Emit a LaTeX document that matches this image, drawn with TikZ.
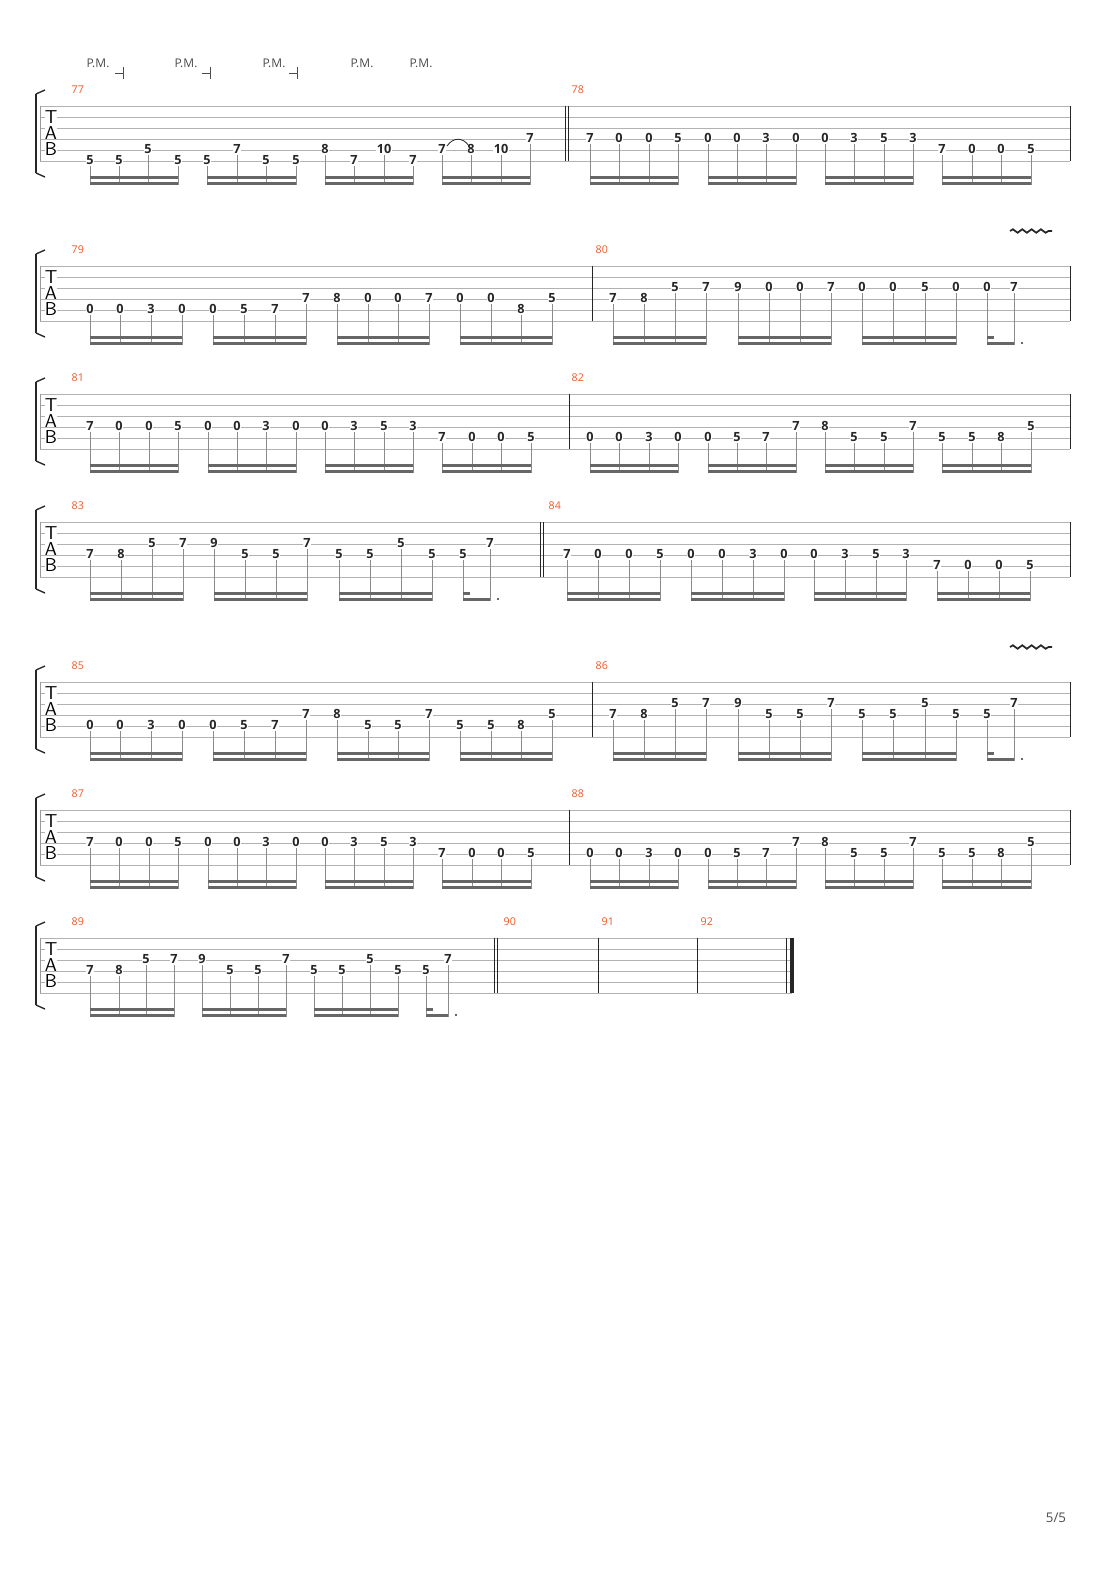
\documentclass[tikz,border=0pt]{standalone}
\usepackage{fontspec}
\setmainfont{Open Sans}
\usetikzlibrary{decorations.pathmorphing}
\tikzset{
 fret/.style={font=\bfseries\fontsize{9.5}{10}\selectfont,fill=white,inner sep=0.6pt,text=black!85},
 stem/.style={draw=black!45,line width=0.5pt},
 beamc/.style={fill=black!60},
 sline/.style={draw=black!30,line width=0.5pt},
 mnum/.style={font=\fontsize{8}{8}\selectfont,text={rgb,255:red,240;green,90;blue,40},anchor=west},
 pm/.style={font=\fontsize{9}{9}\selectfont,text=black!70},
 bar/.style={draw=black!85,line width=0.6pt},
}
\newcommand\staff[2]{%
 \foreach \k in {0,...,5}{\draw[sline] (40,{#1+11*\k}) -- (#2,{#1+11*\k});}
 \draw[draw=black!40,line width=0.5pt] (40,#1) -- (40,#1+55);
 \draw[line width=2pt,black!85] (36,#1-12) -- (36,#1+67);
 \draw[line width=1pt,black!85] (36,#1-12) .. controls (40,#1-14) .. (45,#1-16);
 \draw[line width=1pt,black!85] (36,#1+67) .. controls (40,#1+69) .. (45,#1+71);
 \node[font=\sffamily\fontsize{14}{14}\selectfont,inner sep=0pt,fill=white] at (51,#1+11) {T};
 \node[font=\sffamily\fontsize{14}{14}\selectfont,inner sep=0pt,fill=white] at (51,#1+27) {A};
 \node[font=\sffamily\fontsize{14}{14}\selectfont,inner sep=0pt,fill=white] at (51,#1+43) {B};
 \draw[bar] (#2,#1) -- (#2,#1+55);
}
\newcommand\grp[4]{%
 \foreach \xx/\ss/\ff in {#4}{%
  \draw[stem] (\xx,{#1+11*(\ss-1)+5}) -- (\xx,#1+79);
  \node[fret] at (\xx,{#1+11*(\ss-1)-1}) {\ff};}
 \fill[beamc] (#2,#1+70) rectangle (#3,#1+73);
 \fill[beamc] (#2,#1+76) rectangle (#3,#1+79);}
\newcommand\sgrp[4]{% short dotted group
 \foreach \xx/\ss/\ff in {#4}{%
  \draw[stem] (\xx,{#1+11*(\ss-1)+5}) -- (\xx,#1+79);
  \node[fret] at (\xx,{#1+11*(\ss-1)-1}) {\ff};}
 \fill[beamc] (#2,#1+70) rectangle (#2+7,#1+73);
 \fill[beamc] (#2,#1+76) rectangle (#3,#1+79);
 \fill[black!80] (#3+8,#1+77) circle (1.1);}
\newcommand\dbar[2]{\draw[bar] (#1,#2) -- (#1,#2+55); \draw[bar] (#1+3,#2) -- (#1+3,#2+55);}
\newcommand\mA[1]{% measure like 78 at x 590..
 \grp{#1}{590}{678}{590/4/7,619/4/0,649/4/0,678/4/5}
 \grp{#1}{708}{796}{708/4/0,737/4/0,766/4/3,796/4/0}
 \grp{#1}{825}{913}{825/4/0,854/4/3,884/4/5,913/4/3}
 \grp{#1}{942}{1031}{942/5/7,972/5/0,1001/5/0,1031/5/5}}
\newcommand\mB[1]{% measure like 82 at x 590..
 \grp{#1}{590}{678}{590/5/0,619/5/0,649/5/3,678/5/0}
 \grp{#1}{708}{796}{708/5/0,737/5/5,766/5/7,796/4/7}
 \grp{#1}{825}{913}{825/4/8,854/5/5,884/5/5,913/4/7}
 \grp{#1}{942}{1031}{942/5/5,972/5/5,1001/5/8,1031/4/5}}
\begin{document}
\begin{tikzpicture}[x=0.75pt,y=-0.75pt]
\useasboundingbox[fill=white] (0,0) rectangle (1110,1570);
% ---------- system 1
\staff{106}{1070}
\foreach \px/\ex in {98/123,186/210,274/297}{
 \node[pm] at (\px,63) {P.M.};
 \draw[black!70,line width=0.6pt] (\ex-8,73) -- (\ex,73) (\ex,67) -- (\ex,79);}
\node[pm] at (362,63) {P.M.};
\node[pm] at (421,63) {P.M.};
\node[mnum] at (67,90) {77};
\grp{106}{90}{178}{90/6/5,119/6/5,148/5/5,178/6/5}
\grp{106}{207}{296}{207/6/5,237/5/7,266/6/5,296/6/5}
\grp{106}{325}{413}{325/5/8,354/6/7,384/5/10,413/6/7}
\grp{106}{442}{530}{442/5/7,471/5/8,501/5/10,530/4/7}
\draw[black!85,line width=0.6pt] (447,146) .. controls (453,137) and (463,137) .. (469,146);
\dbar{565}{106}
\node[mnum] at (567,90) {78};
\mA{106}
% ---------- system 2
\staff{266}{1070}
\node[mnum] at (67,250) {79};
\grp{266}{90}{182}{90/5/0,120/5/0,151/5/3,182/5/0}
\grp{266}{213}{306}{213/5/0,244/5/5,275/5/7,306/4/7}
\grp{266}{337}{429}{337/4/8,368/4/0,398/4/0,429/4/7}
\grp{266}{460}{552}{460/4/0,491/4/0,521/5/8,552/4/5}
\draw[bar] (592,266) -- (592,321);
\node[mnum] at (591,250) {80};
\grp{266}{613}{706}{613/4/7,644/4/8,675/3/5,706/3/7}
\grp{266}{738}{831}{738/3/9,769/3/0,800/3/0,831/3/7}
\grp{266}{862}{956}{862/3/0,893/3/0,925/3/5,956/3/0}
\sgrp{266}{987}{1014}{987/3/0,1014/3/7}
\draw[black!85,line width=1.3pt,decorate,decoration={snake,amplitude=1.3,segment length=7}] (1010,231) -- (1052,231);
% ---------- system 3
\staff{394}{1070}
\node[mnum] at (67,378) {81};
\begin{scope}[shift={(-500,0)}]\mA{394}\end{scope}
\draw[bar] (569,394) -- (569,449);
\node[mnum] at (567,378) {82};
\mB{394}
% ---------- system 4
\staff{522}{1070}
\node[mnum] at (67,506) {83};
\grp{522}{90}{183}{90/4/7,121/4/8,152/3/5,183/3/7}
\grp{522}{214}{307}{214/3/9,245/4/5,276/4/5,307/3/7}
\grp{522}{339}{432}{339/4/5,370/4/5,401/3/5,432/4/5}
\sgrp{522}{463}{490}{463/4/5,490/3/7}
\dbar{540}{522}
\node[mnum] at (544,506) {84};
\grp{522}{567}{660}{567/4/7,598/4/0,629/4/0,660/4/5}
\grp{522}{691}{784}{691/4/0,722/4/0,753/4/3,784/4/0}
\grp{522}{814}{906}{814/4/0,845/4/3,876/4/5,906/4/3}
\grp{522}{937}{1030}{937/5/7,968/5/0,999/5/0,1030/5/5}
% ---------- system 5
\staff{682}{1070}
\node[mnum] at (67,666) {85};
\grp{682}{90}{182}{90/5/0,120/5/0,151/5/3,182/5/0}
\grp{682}{213}{306}{213/5/0,244/5/5,275/5/7,306/4/7}
\grp{682}{337}{429}{337/4/8,368/5/5,398/5/5,429/4/7}
\grp{682}{460}{552}{460/5/5,491/5/5,521/5/8,552/4/5}
\draw[bar] (592,682) -- (592,737);
\node[mnum] at (591,666) {86};
\grp{682}{613}{706}{613/4/7,644/4/8,675/3/5,706/3/7}
\grp{682}{738}{831}{738/3/9,769/4/5,800/4/5,831/3/7}
\grp{682}{862}{956}{862/4/5,893/4/5,925/3/5,956/4/5}
\sgrp{682}{987}{1014}{987/4/5,1014/3/7}
\draw[black!85,line width=1.3pt,decorate,decoration={snake,amplitude=1.3,segment length=7}] (1010,647) -- (1052,647);
% ---------- system 6
\staff{810}{1070}
\node[mnum] at (67,794) {87};
\begin{scope}[shift={(-500,0)}]\mA{810}\end{scope}
\draw[bar] (569,810) -- (569,865);
\node[mnum] at (567,794) {88};
\mB{810}
% ---------- system 7
\staff{938}{792}
\node[mnum] at (67,922) {89};
\grp{938}{90}{174}{90/4/7,119/4/8,146/3/5,174/3/7}
\grp{938}{202}{286}{202/3/9,230/4/5,258/4/5,286/3/7}
\grp{938}{314}{398}{314/4/5,342/4/5,370/3/5,398/4/5}
\sgrp{938}{426}{448}{426/4/5,448/3/7}
\dbar{494}{938}
\node[mnum] at (499,922) {90};
\draw[bar] (598,938) -- (598,993);
\node[mnum] at (597,922) {91};
\draw[bar] (697,938) -- (697,993);
\node[mnum] at (696,922) {92};
\draw[bar] (786,938) -- (786,993);
\fill[black!85] (790,938) rectangle (794,993);
% page number
\node[font=\fontsize{10}{10}\selectfont,text=black!70] at (1056,1518) {5/5};
\end{tikzpicture}
\end{document}
